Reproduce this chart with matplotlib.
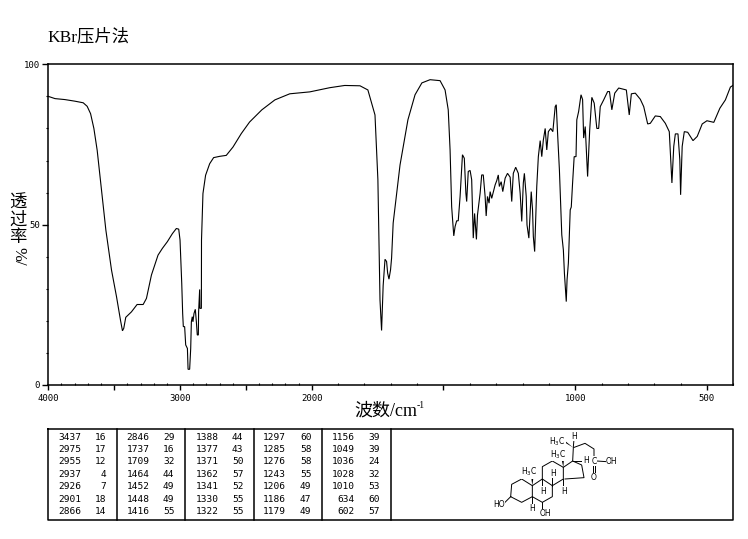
#%% imports
from matplotlib import pyplot as plt
from matplotlib.ticker import FixedLocator, NullFormatter
import numpy as np

# %% Spectrum
wavenumber = [
    4000, 3949, 3874, 3798, 3735, 3705, 3679, 3654, 3629, 3596, 3563, 3520, 3482, 3452, 3437, 3427,
    3412, 3369, 3326, 3280, 3255, 3217, 3167, 3134, 3096, 3058, 3028, 3010, 3000, 2987, 2980, 2975,
    2965, 2957, 2944, 2939, 2927, 2919, 2914, 2907, 2902, 2894, 2884, 2876, 2869, 2861, 2859, 2851,
    2849, 2838, 2837, 2826, 2806, 2775, 2745, 2699, 2649, 2598, 2535, 2472, 2379, 2280, 2167, 2015,
    1932, 1875, 1817, 1787, 1760, 1749, 1741, 1735, 1729, 1722, 1716, 1712, 1707, 1701, 1697, 1691,
    1665, 1635, 1608, 1582, 1551, 1513, 1494, 1482, 1475, 1469, 1463, 1461, 1456, 1450, 1444, 1437,
    1428, 1421, 1415, 1412, 1406, 1399, 1393, 1387, 1382, 1375, 1371, 1361, 1355, 1349, 1342, 1338,
    1333, 1327, 1323, 1317, 1304, 1298, 1292, 1288, 1281, 1275, 1266, 1257, 1247, 1241, 1235, 1226,
    1216, 1209, 1203, 1197, 1193, 1186, 1183, 1176, 1167, 1162, 1159, 1154, 1146, 1140, 1133, 1127,
    1121, 1114, 1108, 1102, 1093, 1085, 1076, 1072, 1067, 1060, 1051, 1045, 1041, 1038, 1034, 1031,
    1026, 1019, 1015, 1010, 1004, 997, 994, 987, 978, 972, 968, 962, 953, 945, 937, 928,
    918, 911, 905, 892, 877, 870, 861, 850, 835, 806, 795, 787, 772, 753, 740, 725,
    715, 696, 677, 658, 643, 633, 626, 620, 610, 603, 600, 594, 586, 573, 553, 537,
    518, 500, 474, 451, 430, 411, 400,
]
transmittance = [
    90.0, 89.3, 89.0, 88.5, 88.0, 86.9, 84.6, 80.0, 73.2, 60.7, 48.3, 35.8, 27.5, 20.2, 16.9, 17.7,
    21.1, 22.8, 25.1, 25.1, 27.0, 34.3, 40.5, 42.6, 44.7, 47.2, 48.8, 48.6, 45.2, 31.7, 22.3, 18.2,
    18.2, 12.5, 11.4, 4.9, 4.9, 11.4, 19.7, 21.3, 19.7, 22.3, 23.6, 19.7, 15.6, 15.6, 22.8, 29.8,
    23.9, 23.9, 45.2, 59.7, 65.4, 69.0, 70.9, 71.3, 71.6, 74.2, 78.4, 82.0, 85.8, 88.9, 90.8, 91.4,
    92.7, 93.4, 93.3, 92.0, 84.2, 64.0, 26.5, 17.0, 31.0, 39.2, 38.5, 34.9, 33.0, 35.9, 39.6, 50.5,
    68.6, 82.7, 90.5, 94.2, 95.2, 94.9, 92.0, 85.8, 73.3, 55.6, 48.4, 46.5, 49.4, 51.2, 51.2, 58.8,
    71.8, 70.7, 59.8, 57.2, 66.6, 66.9, 64.0, 45.8, 53.5, 45.4, 53.0, 59.8, 65.5, 65.5, 58.8, 52.7,
    58.8, 56.7, 60.3, 58.2, 62.4, 63.7, 65.5, 61.9, 63.4, 60.3, 64.5, 66.0, 64.8, 57.2, 66.0, 67.9,
    66.0, 59.8, 51.0, 63.0, 66.0, 58.8, 49.9, 45.8, 60.3, 54.6, 46.3, 41.6, 61.9, 71.2, 76.2, 71.2,
    76.4, 80.0, 73.3, 79.0, 80.0, 79.0, 86.8, 87.4, 78.5, 67.0, 46.8, 42.1, 34.8, 31.2, 26.0, 32.8,
    38.0, 54.6, 55.5, 63.0, 71.2, 71.2, 82.7, 85.3, 90.5, 89.0, 77.0, 80.6, 65.0, 79.6, 89.7, 87.9,
    80.0, 80.0, 86.8, 88.9, 91.5, 91.5, 85.8, 91.0, 92.6, 92.0, 84.2, 90.8, 91.0, 89.1, 86.8, 81.4,
    81.6, 83.9, 83.7, 81.6, 79.0, 63.0, 74.4, 78.3, 78.3, 70.2, 59.3, 74.4, 79.0, 78.8, 76.2, 77.5,
    81.4, 82.4, 81.9, 86.3, 88.9, 92.9, 93.5,
]

# %% Peak table, one list per column
peak_wn = [
    [3437, 2975, 2955, 2937, 2926, 2901, 2866],
    [2846, 1737, 1709, 1464, 1452, 1448, 1416],
    [1388, 1377, 1371, 1362, 1341, 1330, 1322],
    [1297, 1285, 1276, 1243, 1206, 1186, 1179],
    [1156, 1049, 1036, 1028, 1010, 634, 602],
]
peak_t = [
    [16, 17, 12, 4, 7, 18, 14],
    [29, 16, 32, 44, 49, 49, 55],
    [44, 43, 50, 57, 52, 55, 55],
    [60, 58, 58, 55, 49, 47, 49],
    [39, 39, 24, 32, 53, 60, 57],
]
x_major = [4000, 3500, 3000, 2500, 2000, 1500, 1000, 500]
x_labels = {4000: '4000', 3000: '3000', 2000: '2000', 1000: '1000', 500: '500'}
y_labels = {100: '100', 50: '50', 0: '0'}

# structure sketch, pixel positions inside the structure box
bonds = [
    [(122, 215), (125, 178), (155, 162), (187, 182), (187, 215), (155, 232), (122, 215)],
    [(187, 182), (217, 162), (247, 182), (247, 215), (217, 232), (187, 215)],
    [(217, 162), (217, 125), (247, 108), (280, 127), (280, 162), (247, 182)],
    [(280, 127), (308, 108), (335, 120), (342, 158), (285, 162)],
    [(308, 108), (310, 68), (345, 55), (372, 72), (372, 100)],
    [(380, 108), (410, 110)], [(368, 118), (368, 147)], [(374, 118), (374, 147)],
    [(247, 182), (247, 155)], [(217, 162), (217, 190)], [(280, 162), (280, 190)],
    [(187, 215), (187, 240)], [(217, 232), (217, 255)], [(122, 215), (105, 232)],
    [(312, 42), (310, 66)], [(310, 108), (338, 108)],
]
wedges = [
    [(310, 68), (283, 46), (287, 54)],
    [(280, 127), (274, 100), (282, 100)],
    [(187, 182), (183, 152), (191, 152)],
]
atoms = [
    ('H', 312, 35), ('H$_3$C', 263, 49), ('H$_3$C', 265, 89), ('H$_3$C', 178, 141), ('H', 347, 107),
    ('C', 372, 108), ('OH', 425, 110), ('O', 372, 157), ('H', 248, 145), ('H', 218, 198),
    ('H', 282, 198), ('H', 187, 250), ('OH', 226, 267), ('HO', 88, 238),
]


# %% Axis is stretched by two below 2000 cm-1
def to_pos(w):
    w = np.asarray(w, dtype=float)
    return np.where(w <= 2000, 2 * w, w + 2000)


def from_pos(p):
    p = np.asarray(p, dtype=float)
    return np.where(p <= 4000, p / 2, p - 2000)


W, H = 748, 539
fig = plt.figure(figsize=(W / 100, H / 100), dpi=100)
L, R, T, B = 48.3, 733.3, 64.3, 385.0
ax = fig.add_axes([L / W, 1 - B / H, (R - L) / W, (B - T) / H])
ax.set_xscale('function', functions=(to_pos, from_pos))
ax.plot(wavenumber, transmittance, color='black', lw=0.8, solid_joinstyle='miter')
ax.set_xlim(4000, 400)
ax.set_ylim(0, 100)

ax.xaxis.set_major_locator(FixedLocator(x_major))
ax.xaxis.set_minor_locator(FixedLocator(list(range(4000, 399, -100))))
ax.set_xticklabels([x_labels.get(v, '') for v in x_major], fontsize=6.5, family='DejaVu Sans Mono')
ax.xaxis.set_minor_formatter(NullFormatter())
ax.tick_params(axis='x', which='major', direction='out', length=3.5, width=1, pad=3)
ax.tick_params(axis='x', which='minor', direction='in', length=1.5, width=0.8)

ax.yaxis.set_major_locator(FixedLocator(list(y_labels)))
ax.yaxis.set_minor_locator(FixedLocator(list(range(0, 101, 10))))
ax.set_yticklabels(list(y_labels.values()), fontsize=6.5, family='DejaVu Sans Mono')
ax.yaxis.set_minor_formatter(NullFormatter())
ax.tick_params(axis='y', which='major', direction='out', length=4, width=1, pad=2)
ax.tick_params(axis='y', which='minor', direction='out', length=1.5, width=0.8)
for s in ax.spines.values():
    s.set_linewidth(1.1)

# %% Overlay in pixel coordinates for the texts and the table
ov = fig.add_axes([0, 0, 1, 1])
ov.set_xlim(0, W)
ov.set_ylim(H, 0)
ov.axis('off')

cjk = ['Liberation Serif', 'Noto Sans CJK SC', 'DejaVu Sans']
ov.text(47, 37, 'KBr压片法', fontsize=12.5, family=cjk, ha='left', va='center')
ov.text(354, 411, '波数/cm', fontsize=13, family=cjk, ha='left', va='center')
ov.text(417, 406, '-1', fontsize=7, family=cjk, ha='left', va='center')
for ch, y in zip('透过率', [203.5, 220.5, 238]):
    ov.text(18, y, ch, fontsize=12.5, family=cjk, ha='center', va='center')
ov.text(18, 256, '%/', fontsize=12, family=cjk, rotation=-90, ha='center', va='center')

# table frame
ov.plot([48, 733, 733, 48, 48], [428.5, 428.5, 520, 520, 428.5], color='black', lw=1.1)
for x in [117.5, 185, 254.5, 322.5, 391.5]:
    ov.plot([x, x], [428.5, 520], color='black', lw=1.1)

row_y = [437.7, 450, 462, 474.5, 486.5, 499, 512]
wn_right = [81, 149.5, 218.5, 286, 355]
t_right = [106, 174.5, 243.5, 311.5, 380]
for c in range(5):
    for r in range(7):
        ov.text(wn_right[c], row_y[r], str(peak_wn[c][r]), fontsize=6.8, family='DejaVu Sans Mono',
                ha='right', va='center')
        ov.text(t_right[c], row_y[r], str(peak_t[c][r]), fontsize=6.8, family='DejaVu Sans Mono',
                ha='right', va='center')


# structure, sketch coordinates are 3x pixels from (470, 425)
def sx(v):
    return 470 + v / 3


def sy(v):
    return 425 + v / 3


for b in bonds:
    ov.plot([sx(p[0]) for p in b], [sy(p[1]) for p in b], color='black', lw=0.7)
for w in wedges:
    ov.fill([sx(p[0]) for p in w], [sy(p[1]) for p in w], color='black', lw=0)
for label, x, y in atoms:
    ov.text(sx(x), sy(y), label, fontsize=5.5, ha='center', va='center',
            bbox=dict(facecolor='white', edgecolor='none', pad=0.2))

fig.savefig('out.png', dpi=100)
